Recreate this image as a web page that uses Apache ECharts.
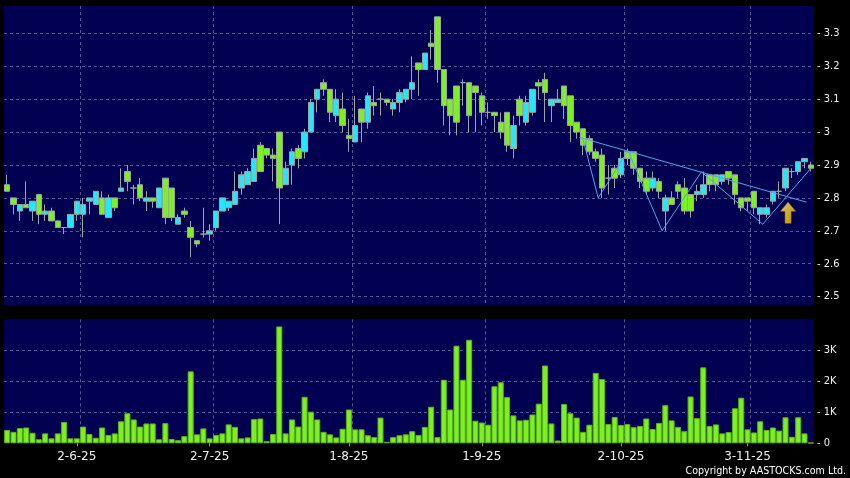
<!DOCTYPE html>
<html><head><meta charset="utf-8">
<script src="https://cdn.jsdelivr.net/npm/echarts@6/dist/echarts.min.js"></script>
<style>html,body{margin:0;padding:0;background:#000;}#c{width:850px;height:478px;}</style>
</head><body><div id="c"></div>
<script>
// ---- data ----
const dates = [
'16-5-25','19-5-25','20-5-25','21-5-25','22-5-25','23-5-25','26-5-25','27-5-25','28-5-25','29-5-25','30-5-25',
'2-6-25','3-6-25','4-6-25','5-6-25','6-6-25','9-6-25','10-6-25','11-6-25','12-6-25','13-6-25','16-6-25','17-6-25','18-6-25','19-6-25','20-6-25','23-6-25','24-6-25','25-6-25','26-6-25','27-6-25','30-6-25',
'2-7-25','3-7-25','4-7-25','7-7-25','8-7-25','9-7-25','10-7-25','11-7-25','14-7-25','15-7-25','16-7-25','17-7-25','18-7-25','21-7-25','22-7-25','23-7-25','24-7-25','25-7-25','28-7-25','29-7-25','30-7-25','31-7-25',
'1-8-25','4-8-25','5-8-25','6-8-25','7-8-25','8-8-25','11-8-25','12-8-25','13-8-25','14-8-25','15-8-25','18-8-25','19-8-25','20-8-25','21-8-25','22-8-25','25-8-25','26-8-25','27-8-25','28-8-25','29-8-25',
'1-9-25','2-9-25','3-9-25','4-9-25','5-9-25','8-9-25','9-9-25','10-9-25','11-9-25','12-9-25','15-9-25','16-9-25','17-9-25','18-9-25','19-9-25','22-9-25','23-9-25','24-9-25','25-9-25','26-9-25','29-9-25','30-9-25',
'2-10-25','3-10-25','6-10-25','8-10-25','9-10-25','10-10-25','13-10-25','14-10-25','15-10-25','16-10-25','17-10-25','20-10-25','21-10-25','22-10-25','23-10-25','24-10-25','27-10-25','28-10-25','30-10-25','31-10-25',
'3-11-25','4-11-25','5-11-25','6-11-25','7-11-25','10-11-25','11-11-25','12-11-25','13-11-25','14-11-25','17-11-25'
];
const tickLabels = ['2-6-25','2-7-25','1-8-25','1-9-25','2-10-25','3-11-25'];
const opens = [
2.84,2.80,2.76,2.78,2.76,2.81,2.75,2.76,2.73,2.71,2.71,2.75,2.75,2.79,2.78,2.80,2.74,2.80,2.82,2.88,
2.83,2.84,2.79,2.80,2.77,2.86,2.83,2.72,2.76,2.71,2.67,2.69,2.69,2.71,2.76,2.77,2.78,2.83,2.84,2.85,
2.96,2.95,2.93,3.00,2.84,2.90,2.95,2.94,3.00,3.10,3.15,3.13,3.05,3.07,2.99,2.97,3.07,3.03,3.09,3.10,
3.10,3.07,3.09,3.10,3.13,3.21,3.19,3.27,3.35,3.19,3.10,3.14,3.15,3.15,3.14,3.11,3.06,3.06,3.03,3.06,
2.95,3.10,3.03,3.06,3.15,3.16,3.08,3.09,3.14,3.11,3.03,3.01,2.98,2.94,2.93,2.86,2.89,2.87,2.94,2.94,
2.89,2.86,2.83,2.85,2.76,2.80,2.84,2.83,2.81,2.81,2.81,2.87,2.87,2.85,2.88,2.87,2.80,2.80,2.82,2.75,
2.75,2.79,2.82,2.83,2.88,2.88,2.91,2.90];
const closes = [
2.82,2.78,2.78,2.77,2.79,2.75,2.76,2.73,2.71,2.71,2.75,2.79,2.78,2.80,2.82,2.75,2.80,2.77,2.83,2.85,
2.83,2.80,2.80,2.79,2.83,2.74,2.74,2.74,2.75,2.68,2.66,2.69,2.70,2.76,2.80,2.79,2.82,2.87,2.88,2.92,
2.88,2.93,2.92,2.83,2.89,2.94,2.92,3.00,3.09,3.13,3.13,3.06,3.10,3.02,2.98,3.02,3.03,3.11,3.08,3.10,
3.09,3.09,3.12,3.13,3.15,3.19,3.24,3.26,3.19,3.08,3.05,3.03,3.15,3.05,3.12,3.06,3.06,3.05,3.00,2.96,
3.02,3.05,3.09,3.13,3.14,3.12,3.10,3.10,3.08,3.02,3.00,2.96,2.94,2.92,2.83,2.86,2.86,2.92,2.92,2.89,
2.85,2.82,2.86,2.82,2.80,2.78,2.82,2.76,2.76,2.82,2.84,2.84,2.84,2.87,2.86,2.81,2.77,2.79,2.77,2.77,
2.77,2.82,2.82,2.89,2.88,2.91,2.92,2.89];
const lows = [
2.82,2.75,2.73,2.77,2.73,2.72,2.73,2.73,2.71,2.69,2.71,2.73,2.68,2.75,2.78,2.75,2.74,2.76,2.82,2.82,
2.78,2.79,2.76,2.77,2.77,2.72,2.73,2.72,2.74,2.62,2.65,2.68,2.67,2.70,2.76,2.76,2.78,2.81,2.84,2.85,
2.88,2.92,2.85,2.72,2.84,2.84,2.89,2.92,3.00,3.06,3.11,3.03,3.03,3.00,2.94,2.97,2.97,3.01,3.05,3.05,
3.08,3.05,3.06,3.09,3.10,3.11,3.19,3.22,3.15,3.02,2.99,2.99,3.08,3.00,3.00,3.02,3.04,3.00,2.98,2.94,
2.92,3.02,3.02,3.05,3.10,3.03,3.03,3.09,3.04,2.97,2.98,2.93,2.93,2.91,2.80,2.81,2.83,2.86,2.90,2.87,
2.83,2.81,2.82,2.80,2.70,2.78,2.80,2.75,2.74,2.79,2.80,2.82,2.82,2.84,2.84,2.78,2.76,2.76,2.75,2.72,
2.74,2.78,2.80,2.82,2.86,2.87,2.89,2.88];
const highs = [
2.87,2.80,2.78,2.85,2.79,2.81,2.78,2.77,2.73,2.71,2.75,2.79,2.80,2.80,2.82,2.82,2.81,2.80,2.89,2.90,
2.84,2.86,2.82,2.80,2.83,2.86,2.83,2.75,2.77,2.73,2.67,2.77,2.72,2.76,2.80,2.79,2.88,2.88,2.89,2.95,
2.97,2.95,2.95,3.00,2.91,2.95,2.96,3.01,3.10,3.13,3.16,3.13,3.13,3.12,3.04,3.11,3.07,3.12,3.14,3.12,
3.10,3.10,3.13,3.13,3.23,3.21,3.24,3.31,3.35,3.19,3.10,3.14,3.16,3.15,3.14,3.12,3.09,3.06,3.06,3.06,
3.05,3.11,3.11,3.13,3.16,3.18,3.10,3.13,3.14,3.11,3.03,3.01,2.99,2.95,2.95,2.90,2.90,2.94,2.95,2.94,
2.89,2.88,2.88,2.86,2.81,2.82,2.85,2.86,2.81,2.84,2.88,2.87,2.87,2.87,2.88,2.87,2.80,2.80,2.82,2.77,
2.78,2.82,2.85,2.89,2.89,2.91,2.92,2.91];
const volumesK = [
0.43,0.37,0.49,0.51,0.34,0.13,0.32,0.16,0.32,0.69,
0.16,0.16,0.54,0.30,0.18,0.51,0.27,0.32,0.71,0.97,
0.77,0.54,0.64,0.64,0.13,0.65,0.14,0.10,0.23,2.32,
0.29,0.48,0.16,0.27,0.32,0.61,0.53,0.16,0.19,0.78,
0.80,0.07,0.30,3.77,0.32,0.77,0.54,1.50,1.02,0.77,
0.37,0.29,0.19,0.47,1.09,0.45,0.45,0.26,0.20,0.83,
0.05,0.20,0.26,0.29,0.39,0.27,0.53,1.18,0.20,2.05,
1.09,3.15,2.05,3.34,0.73,0.67,0.60,1.84,1.97,1.49,
0.90,0.74,0.76,0.93,1.28,2.51,0.64,0.09,1.27,0.97,
0.83,0.37,0.60,2.27,2.07,0.62,0.85,0.59,0.62,0.52,
0.56,0.80,0.46,0.66,1.23,0.74,0.53,0.39,1.51,0.81,
2.45,0.56,0.61,0.32,0.36,1.13,1.47,0.45,0.35,0.71,
0.43,0.51,0.41,0.84,0.21,0.84,0.32,0.02];
// annotation lines drawn by the author (x = fractional bar index, y = price)
const trendLine = [[90.4,2.984],[126.3,2.787]];
const zigzagLine = [[91.0,2.978],[93.4,2.80],[98.1,2.943],[103.5,2.70],[109.7,2.879],[119.4,2.72],[127.1,2.892]];
const arrowPoint = [[123.4,2.755]];

// ---- chart ----
const NAVY = '#020050', GRIDC = '#55558f', GREEN = '#7cf020', CYAN = '#22e8f8';
const labelIdx = new Set(tickLabels.map(t => dates.indexOf(t)));
const splitIdx = new Set([...labelIdx].map(i => i + 1));
const labelFn = (i) => labelIdx.has(i);
const splitFn = (i) => splitIdx.has(i);
const candleData = opens.map((o, i) => [o, closes[i], lows[i], highs[i]]);
const FONT = 'DejaVu Sans';
const CFONT = '"DejaVu Sans Condensed", "DejaVu Sans"';

const chart = echarts.init(document.getElementById('c'), null, {renderer: 'canvas'});
chart.setOption({
  backgroundColor: '#000',
  animation: false,
  grid: [
    {left: 4, right: 36, top: 6, height: 299.5, show: true, backgroundColor: NAVY, borderWidth: 0},
    {left: 4, right: 36, top: 319.3, height: 124, show: true, backgroundColor: NAVY, borderWidth: 0}
  ],
  xAxis: [
    {type: 'category', gridIndex: 0, data: dates, axisLine: {show: false}, axisTick: {show: false}, axisLabel: {show: false},
     splitLine: {show: true, interval: splitFn, showMaxLine: false, lineStyle: {color: GRIDC, type: [3, 3]}}},
    {type: 'value', gridIndex: 0, min: -0.5, max: dates.length - 0.5, show: false},
    {type: 'category', gridIndex: 1, data: dates, offset: 3, axisLine: {show: false},
     axisTick: {show: true, alignWithLabel: true, interval: labelFn, length: 3, lineStyle: {color: '#999'}},
     axisLabel: {interval: labelFn, color: '#f0f0f0', fontSize: 12, fontFamily: FONT, margin: 5},
     splitLine: {show: true, interval: splitFn, showMaxLine: false, lineStyle: {color: GRIDC, type: [3, 3]}}}
  ],
  yAxis: [
    {type: 'value', gridIndex: 0, position: 'right', min: 2.473, max: 3.383, minInterval: 0.1, maxInterval: 0.1, splitNumber: 9,
     axisLine: {show: false}, axisTick: {show: false},
     axisLabel: {color: '#f0f0f0', fontSize: 11, fontFamily: CFONT, margin: 3, showMinLabel: false, showMaxLabel: false,
       formatter: v => { const t = Math.round(v * 10); return Math.abs(v * 10 - t) > 1e-6 ? '' : '- ' + String(t / 10); }},
     splitLine: {show: true, showMinLine: false, showMaxLine: false, lineStyle: {color: GRIDC, type: [3, 3]}}},
    {type: 'value', gridIndex: 1, position: 'right', min: 0, max: 4, interval: 1,
     axisLine: {show: false}, axisTick: {show: false},
     axisLabel: {color: '#f0f0f0', fontSize: 11, fontFamily: CFONT, margin: 3, showMaxLabel: false,
       formatter: v => v >= 4 ? '' : '- ' + (v === 0 ? '0' : v + 'K')},
     splitLine: {show: true, showMinLine: false, showMaxLine: false, lineStyle: {color: GRIDC, type: [3, 3]}}}
  ],
  series: [
    {type: 'candlestick', xAxisIndex: 0, yAxisIndex: 0, data: candleData, barWidth: 6,
     itemStyle: {color: CYAN, color0: GREEN, borderColor: '#9aa6a0', borderColor0: '#9aa6a0', borderColorDoji: '#9aa6a0', borderWidth: 1}},
    {type: 'bar', xAxisIndex: 2, yAxisIndex: 1, data: volumesK, barWidth: 6,
     itemStyle: {color: GREEN, borderColor: '#5cb418', borderWidth: 1}},
    {type: 'line', xAxisIndex: 1, yAxisIndex: 0, data: trendLine, symbol: 'none', silent: true,
     lineStyle: {color: '#4ea8e8', width: 1}},
    {type: 'line', xAxisIndex: 1, yAxisIndex: 0, data: zigzagLine, symbol: 'none', silent: true,
     lineStyle: {color: '#4ea8e8', width: 1}},
    {type: 'scatter', xAxisIndex: 1, yAxisIndex: 0, data: arrowPoint, silent: true,
     symbol: 'path://M7.5,0 L15,9 L10.5,9 L10.5,21 L4.5,21 L4.5,9 L0,9 Z', symbolSize: [15, 21],
     itemStyle: {color: new echarts.graphic.LinearGradient(0, 0, 1, 1, [
       {offset: 0, color: '#fffcd0'}, {offset: 0.35, color: '#ffe640'}, {offset: 0.8, color: '#ffc000'}, {offset: 1, color: '#f0a000'}]),
       borderColor: '#c08a00', borderWidth: 0.6}}
  ],
  graphic: [
    {type: 'text', right: 4, bottom: 1, style: {text: 'Copyright by AASTOCKS.com Ltd.', fill: '#ffffff', font: '10.6px "DejaVu Sans Condensed", "DejaVu Sans"'}}
  ]
});
</script></body></html>
